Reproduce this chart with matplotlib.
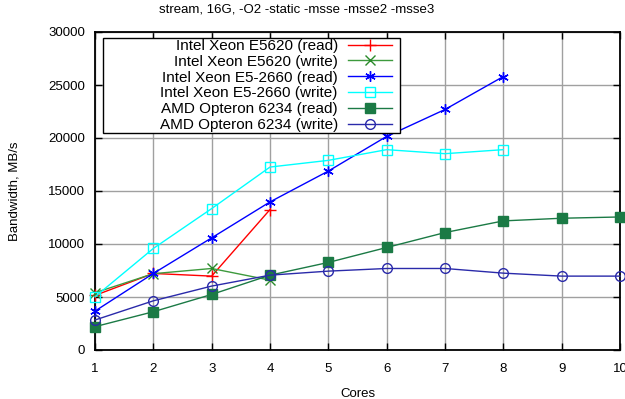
import matplotlib
matplotlib.use("Agg")
import matplotlib.pyplot as plt
from matplotlib.patches import Rectangle

plt.rcParams['font.family'] = ['Liberation Sans', 'DejaVu Sans']

cores = [1, 2, 3, 4, 5, 6, 7, 8, 9, 10]

e5620_read = [5150, 7220, 6970, 13250]
e5620_write = [5400, 7200, 7690, 6590]
e52660_read = [3670, 7220, 10580, 13970, 16880, 20150, 22690, 25800]
e52660_write = [5020, 9580, 13340, 17260, 17890, 18900, 18520, 18900]
amd_read = [2200, 3610, 5240, 7060, 8260, 9670, 11080, 12180, 12430, 12550]
amd_write = [2830, 4640, 6030, 7060, 7440, 7690, 7690, 7250, 6970, 6970]

labels = [
    "Intel Xeon E5620 (read)",
    "Intel Xeon E5620 (write)",
    "Intel Xeon E5-2660 (read)",
    "Intel Xeon E5-2660 (write)",
    "AMD Opteron 6234 (read)",
    "AMD Opteron 6234 (write)",
]
xticks = [1, 2, 3, 4, 5, 6, 7, 8, 9, 10]
yticks = [0, 5000, 10000, 15000, 20000, 25000, 30000]

W, H = 625, 399
fig = plt.figure(figsize=(W / 100, H / 100), dpi=100)
ax = fig.add_axes([95 / W, 1 - 350 / H, 525 / W, 318 / H])

series = [
    (e5620_read, dict(color="#ff0000", marker="+", ms=8, mew=1.0, mfc="none")),
    (e5620_write, dict(color="#3d9a3d", marker="x", ms=6.5, mew=1.0, mfc="none", mec="#2a8a2a")),
    (e52660_read, dict(color="#0000ff", marker=(6, 2, 0), ms=7.5, mew=1.0, mfc="none")),
    (e52660_write, dict(color="#00ffff", marker="s", ms=7, mew=1.0, mfc="none")),
    (amd_read, dict(color="#1b7a45", marker="s", ms=7, mew=1.0)),
    (amd_write, dict(color="#2a2aaa", marker="o", ms=7, mew=1.0, mfc="none")),
]

for (vals, style), lab in zip(series, labels):
    ax.plot(cores[:len(vals)], vals, lw=1.0, label=lab, clip_on=False, zorder=3, **style)

ax.set_xlim(1, 10)
ax.set_ylim(0, 30000)
ax.set_xticks(xticks)
ax.set_yticks(yticks)
ax.set_xticklabels([str(t) for t in xticks])
ax.set_yticklabels([str(t) for t in yticks])
ax.grid(True, color="#a0a0a0", lw=1.0)
ax.set_axisbelow(True)
ax.tick_params(direction="in", length=5, width=1.0, top=True, right=True,
               labelsize=9.5, colors="black")
ax.tick_params(axis="x", pad=9)
ax.tick_params(axis="y", pad=7)
for s in ax.spines.values():
    s.set_linewidth(1.3)
    s.set_color("black")

ax.set_xlabel("Cores", fontsize=9.5, labelpad=10)
ax.set_ylabel("Bandwidth, MB/s", fontsize=9.5, labelpad=20)
fig.text(297 / W, 1 - 9 / H, "stream, 16G, -O2 -static -msse -msse2 -msse3",
         ha="center", va="center", fontsize=9.5)

# key box: white panel with black border, entries right-aligned inside it
box = Rectangle((103 / W, 1 - 133 / H), 297 / W, 95 / H, transform=fig.transFigure,
                facecolor="white", edgecolor="black", lw=1.0, zorder=4, clip_on=False)
ax.add_patch(box)

leg = ax.legend(loc="upper right", bbox_to_anchor=(392 / W, 1 - 39 / H),
                bbox_transform=fig.transFigure, markerfirst=False,
                fontsize=11, frameon=False, borderaxespad=0, borderpad=0,
                handlelength=2.9, labelspacing=0.12, handletextpad=0.65)
leg.set_zorder(5)

fig.savefig("out.png", dpi=100)
